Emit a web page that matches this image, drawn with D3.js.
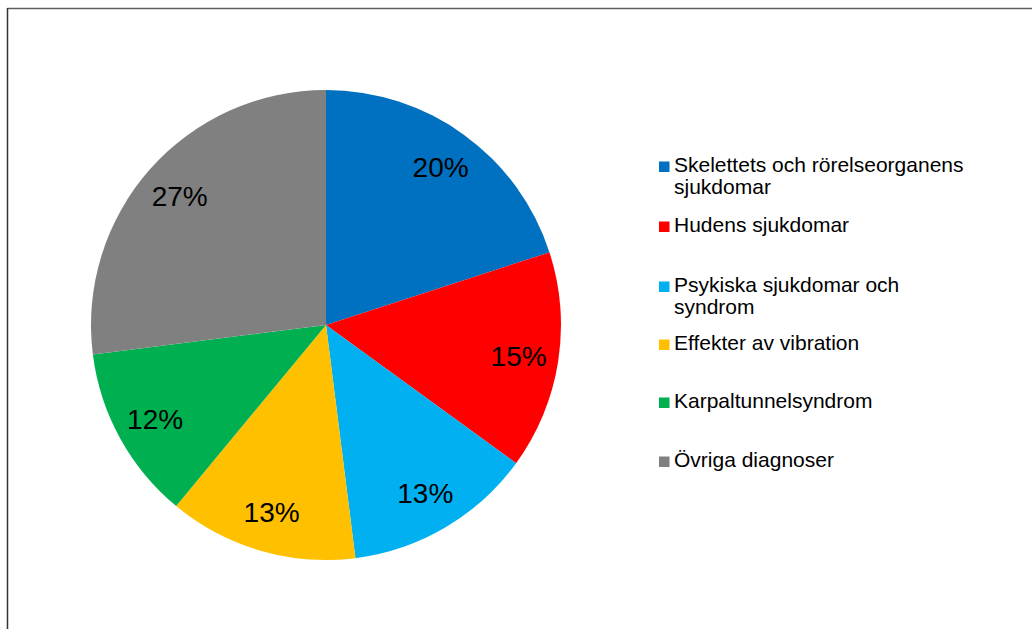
<!DOCTYPE html>
<html>
<head>
<meta charset="utf-8">
<script src="https://cdn.jsdelivr.net/npm/d3@7"></script>
<style>
  body { margin: 0; background: #fff; }
  svg { display: block; font-family: Arial, "Liberation Sans", sans-serif; }
</style>
</head>
<body>
<svg id="chart" width="1032" height="629"></svg>
<script>
const categories = [
    ['Skelettets och rörelseorganens', 'sjukdomar'],
    ['Hudens sjukdomar'],
    ['Psykiska sjukdomar och', 'syndrom'],
    ['Effekter av vibration'],
    ['Karpaltunnelsyndrom'],
    ['Övriga diagnoser']
]
const values = [20, 15, 13, 13, 12, 27]
const colours = ['#0070C0', '#FF0000', '#00B0F0', '#FFC000', '#00B050', '#808080']

const svg = d3.select('#chart')
const width = 1032
const height = 629

// chart frame (only top and left edges visible in the crop)
svg.append('line')
    .attr('x1', 7.5).attr('y1', 8.5).attr('x2', width).attr('y2', 8.5)
    .attr('stroke', '#5f5f5f').attr('stroke-width', 1.5)
svg.append('line')
    .attr('x1', 7.5).attr('y1', 8).attr('x2', 7.5).attr('y2', height)
    .attr('stroke', '#333').attr('stroke-width', 1.5)

const cx = 326
const cy = 325
const radius = 235
const labelRadius = 195

const pie = d3.pie().sort(null).value(d => d)
const arcs = pie(values)
const arc = d3.arc().innerRadius(0).outerRadius(radius)
const labelArc = d3.arc().innerRadius(labelRadius).outerRadius(labelRadius)

const g = svg.append('g').attr('transform', `translate(${cx},${cy})`)

g.selectAll('path')
    .data(arcs)
    .join('path')
    .attr('d', arc)
    .attr('fill', (d, i) => colours[i])

g.selectAll('text.label')
    .data(arcs)
    .join('text')
    .attr('class', 'label')
    .attr('transform', d => `translate(${labelArc.centroid(d)})`)
    .attr('text-anchor', 'middle')
    .attr('dy', '0.36em')
    .attr('font-size', '28px')
    .attr('fill', '#000')
    .text(d => `${d.data}%`)

// legend
const legendX = 659
const legendY = [172, 232, 292, 350, 408, 467]
const lineHeight = 22

const legend = svg.append('g')
const items = legend.selectAll('g')
    .data(categories)
    .join('g')
    .attr('transform', (d, i) => `translate(${legendX},${legendY[i]})`)

items.append('rect')
    .attr('x', 0).attr('y', -10.5)
    .attr('width', 10.5).attr('height', 10.5)
    .attr('fill', (d, i) => colours[i])

items.append('text')
    .attr('x', 15)
    .attr('font-size', '21px')
    .attr('fill', '#000')
    .selectAll('tspan')
    .data(d => d)
    .join('tspan')
    .attr('x', 15)
    .attr('dy', (d, i) => i === 0 ? 0 : lineHeight)
    .text(d => d)
</script>
</body>
</html>
